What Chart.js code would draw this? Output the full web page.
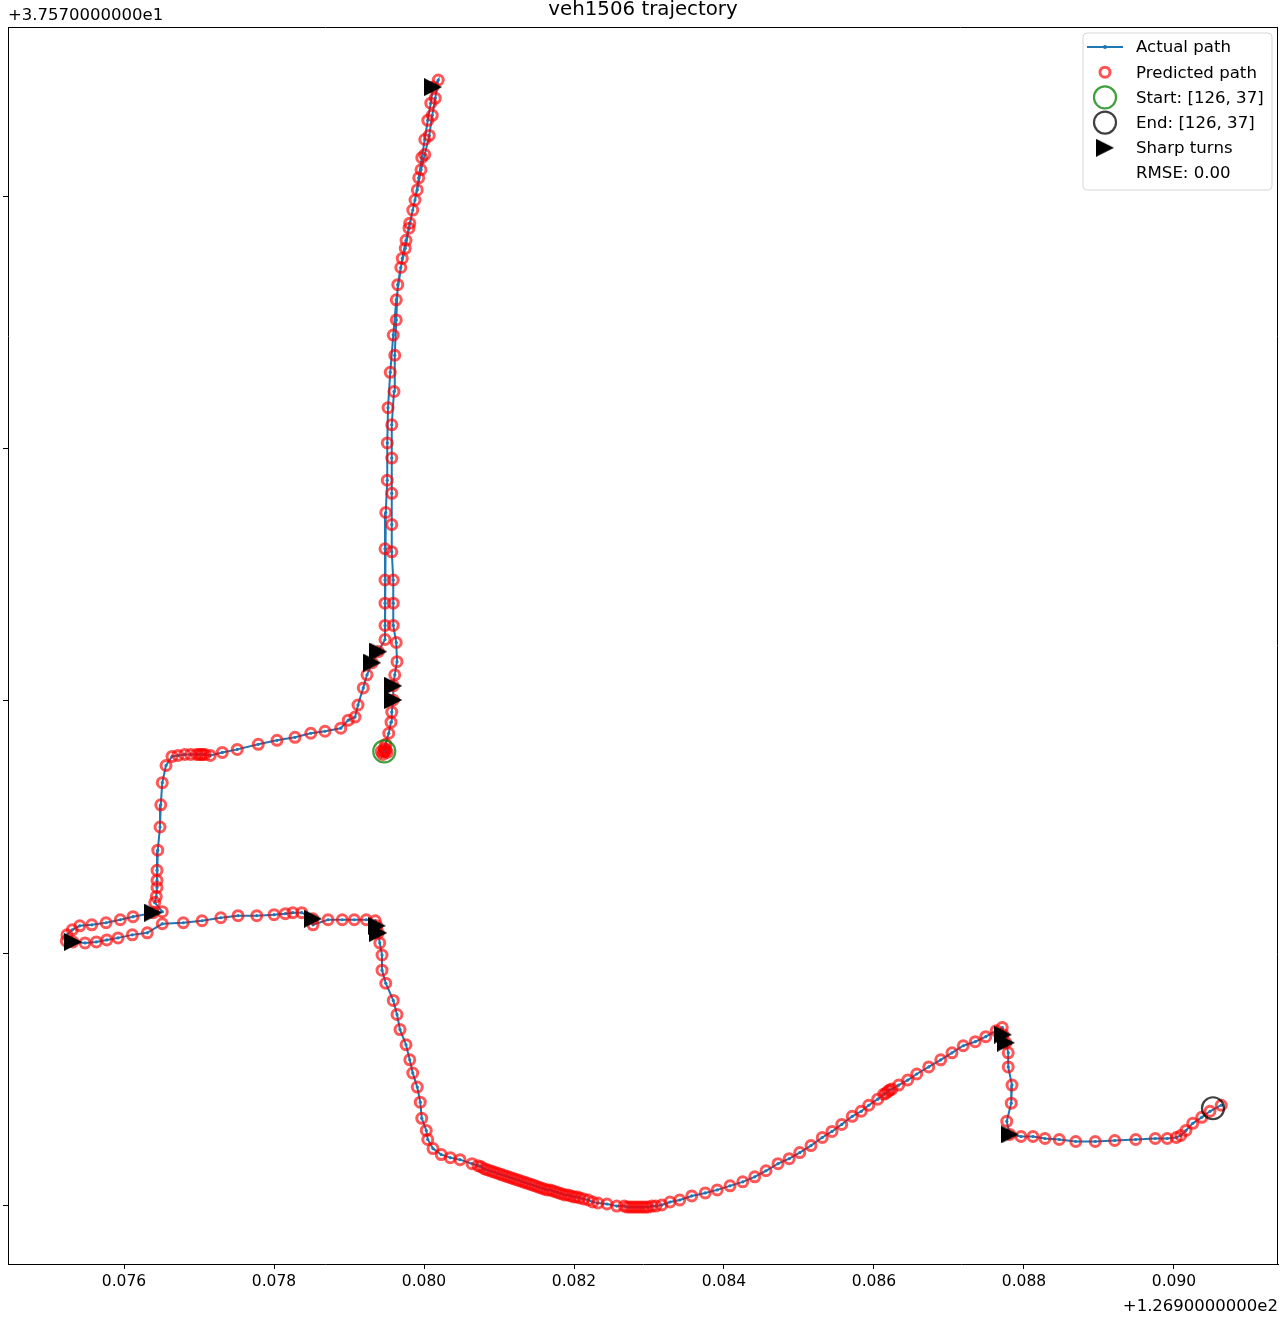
<!DOCTYPE html>
<html>
<head>
<meta charset="utf-8">
<title>veh1506 trajectory</title>
<script src="https://cdn.jsdelivr.net/npm/chart.js@4.4.1/dist/chart.umd.min.js"></script>
<style>
  html, body { margin: 0; padding: 0; background: #fff; }
  #wrap { width: 1281px; height: 1318px; }
</style>
</head>
<body>
<div id="wrap"><canvas id="traj" width="1281" height="1318"></canvas></div>
<script>
// lon offset from 126.9, lat offset from 37.57 (degrees)
var pathX = [
  // start cluster
  0.07947, 0.07943, 0.07951, 0.07947, 0.07945, 0.07949, 0.07948,
  // north leg, up
  0.07949, 0.07953, 0.07956, 0.07957, 0.07959, 0.07959, 0.07961, 0.07964, 0.07963, 0.07959,
  0.07959, 0.07959, 0.07957, 0.07957, 0.07957, 0.07957, 0.07957, 0.07960, 0.07961, 0.07963,
  0.07965, 0.07969, 0.07975, 0.07980, 0.07985, 0.07991, 0.07996, 0.08001, 0.08007, 0.08011,
  0.08015, 0.08019, 0.08012,
  // back down, then west step
  0.08009, 0.08005, 0.08001, 0.07997, 0.07993, 0.07988, 0.07981, 0.07976, 0.07971, 0.07963,
  0.07959, 0.07955, 0.07952, 0.07951, 0.07951, 0.07949, 0.07948, 0.07948, 0.07948, 0.07948,
  0.07948, 0.07939, 0.07931, 0.07924, 0.07919, 0.07912, 0.07908, 0.07899, 0.07889, 0.07868,
  0.07849, 0.07828, 0.07804, 0.07779, 0.07751, 0.07731, 0.07715,
  // west leg, loop, east, descent
  0.07708, 0.07705, 0.07703, 0.07700, 0.07697, 0.07689, 0.07681, 0.07672, 0.07664, 0.07656,
  0.07651, 0.07649, 0.07648, 0.07645, 0.07644, 0.07644, 0.07644, 0.07643, 0.07641, 0.07651,
  0.07639, 0.07612, 0.07595, 0.07576, 0.07557, 0.07541, 0.07531, 0.07524, 0.07523, 0.07532,
  0.07548, 0.07563, 0.07577, 0.07592, 0.07611, 0.07631, 0.07651, 0.07679, 0.07704, 0.07729,
  0.07752, 0.07777, 0.07800, 0.07815, 0.07825, 0.07837, 0.07852, 0.07852, 0.07872, 0.07891,
  0.07907, 0.07923, 0.07935, 0.07937, 0.07939, 0.07941, 0.07944, 0.07944, 0.07949, 0.07959,
  0.07964, 0.07968, 0.07976, 0.07981, 0.07985, 0.07991, 0.07995, 0.07997, 0.08003, 0.08005,
  0.08012, 0.08023, 0.08035, 0.08048, 0.08064,
  // slow stretch along the bottom
  0.08072, 0.08076, 0.08080, 0.08084, 0.08088, 0.08092, 0.08096, 0.08100, 0.08104, 0.08108,
  0.08112, 0.08116, 0.08120, 0.08124, 0.08128, 0.08132, 0.08136, 0.08140, 0.08144, 0.08148,
  0.08152, 0.08156, 0.08160, 0.08164, 0.08168, 0.08172, 0.08176, 0.08180, 0.08184, 0.08188,
  0.08192, 0.08196, 0.08200, 0.08204, 0.08208, 0.08213, 0.08219,
  0.08225, 0.08232, 0.08244, 0.08257,
  0.08267, 0.08271, 0.08275, 0.08279, 0.08283, 0.08287, 0.08291, 0.08295, 0.08299, 0.08304,
  0.08309,
  // climb north-east, drop, east to the end
  0.08317, 0.08328, 0.08341, 0.08357, 0.08375, 0.08391, 0.08408, 0.08425, 0.08441, 0.08456,
  0.08472, 0.08487, 0.08501, 0.08516, 0.08531, 0.08544, 0.08557, 0.08571, 0.08583, 0.08593,
  0.08605, 0.08613, 0.08616, 0.08619, 0.08621, 0.08624, 0.08633, 0.08645, 0.08657, 0.08673,
  0.08689, 0.08704, 0.08719, 0.08735, 0.08749, 0.08763, 0.08771, 0.08772, 0.08776, 0.08779,
  0.08779, 0.08784, 0.08783, 0.08777, 0.08781, 0.08796, 0.08812, 0.08828, 0.08847, 0.08869,
  0.08895, 0.08921, 0.08949, 0.08975, 0.08991, 0.09003, 0.09009, 0.09016, 0.09025, 0.09037,
  0.09048, 0.09063
];
var pathY = [
  0.00700, 0.00700, 0.00699, 0.00703, 0.00697, 0.00702, 0.00700,
  0.00707, 0.00718, 0.00729, 0.00739, 0.00751, 0.00765, 0.00776, 0.00789, 0.00808, 0.00825,
  0.00847, 0.00870, 0.00898, 0.00925, 0.00956, 0.00991, 0.01024, 0.01057, 0.01093, 0.01128,
  0.01163, 0.01180, 0.01199, 0.01219, 0.01237, 0.01257, 0.01277, 0.01292, 0.01311, 0.01331,
  0.01348, 0.01366, 0.01359,
  0.01343, 0.01326, 0.01307, 0.01289, 0.01269, 0.01247, 0.01224, 0.01207, 0.01189, 0.01148,
  0.01113, 0.01076, 0.01041, 0.01006, 0.00969, 0.00937, 0.00901, 0.00870, 0.00847, 0.00825,
  0.00811, 0.00799, 0.00788, 0.00776, 0.00763, 0.00746, 0.00734, 0.00731, 0.00723, 0.00720,
  0.00718, 0.00714, 0.00711, 0.00707, 0.00702, 0.00699, 0.00696,
  0.00697, 0.00697, 0.00697, 0.00697, 0.00697, 0.00697, 0.00697, 0.00696, 0.00695, 0.00686,
  0.00669, 0.00647, 0.00625, 0.00602, 0.00582, 0.00572, 0.00565, 0.00556, 0.00550, 0.00541,
  0.00540, 0.00536, 0.00533, 0.00530, 0.00528, 0.00527, 0.00523, 0.00518, 0.00512, 0.00511,
  0.00510, 0.00511, 0.00513, 0.00515, 0.00518, 0.00520, 0.00529, 0.00530, 0.00532, 0.00535,
  0.00537, 0.00537, 0.00538, 0.00539, 0.00540, 0.00540, 0.00534, 0.00528, 0.00533, 0.00533,
  0.00533, 0.00533, 0.00532, 0.00527, 0.00520, 0.00510, 0.00498, 0.00483, 0.00470, 0.00453,
  0.00439, 0.00424, 0.00409, 0.00394, 0.00381, 0.00367, 0.00352, 0.00336, 0.00324, 0.00315,
  0.00306, 0.00300, 0.00297, 0.00295, 0.00291,
  0.00289, 0.00288, 0.00286, 0.00285, 0.00284, 0.00283, 0.00282, 0.00281, 0.00280, 0.00279,
  0.00278, 0.00277, 0.00276, 0.00275, 0.00274, 0.00273, 0.00272, 0.00271, 0.00270, 0.00269,
  0.00268, 0.00267, 0.00266, 0.00265, 0.00265, 0.00264, 0.00263, 0.00262, 0.00261, 0.00260,
  0.00260, 0.00259, 0.00258, 0.00258, 0.00257, 0.00256, 0.00255,
  0.00253, 0.00252, 0.00251, 0.00249,
  0.00249, 0.00248, 0.00248, 0.00248, 0.00248, 0.00248, 0.00248, 0.00248, 0.00248, 0.00249,
  0.00249,
  0.00250, 0.00253, 0.00255, 0.00259, 0.00262, 0.00265, 0.00269, 0.00273, 0.00278, 0.00284,
  0.00291, 0.00296, 0.00302, 0.00309, 0.00317, 0.00323, 0.00330, 0.00338, 0.00343, 0.00349,
  0.00355, 0.00360, 0.00361, 0.00363, 0.00364, 0.00365, 0.00369, 0.00374, 0.00380, 0.00387,
  0.00394, 0.00401, 0.00408, 0.00412, 0.00417, 0.00423, 0.00426, 0.00419, 0.00411, 0.00401,
  0.00387, 0.00369, 0.00351, 0.00333, 0.00320, 0.00318, 0.00318, 0.00316, 0.00315, 0.00313,
  0.00313, 0.00314, 0.00315, 0.00316, 0.00316, 0.00317, 0.00319, 0.00324, 0.00331, 0.00337,
  0.00343, 0.00349
];
// points flagged as sharp turns
var turnX = [0.07959, 0.07959, 0.08012, 0.07939, 0.07931, 0.07639, 0.07532, 0.07852, 0.07937, 0.07939, 0.08772, 0.08776, 0.08781];
var turnY = [0.00751, 0.00765, 0.01359, 0.00799, 0.00788, 0.00540, 0.00511, 0.00534, 0.00527, 0.00520, 0.00419, 0.00411, 0.00320];
var startPt = [0.07947, 0.00700];
var endPt = [0.09052, 0.00346];

var xMin = 0.074453, xMax = 0.091387, xStep = 0.002;
var yMin = 0.001915, yMax = 0.014186, yStep = 0.0025;

var titleText = 'veh1506 trajectory';
var xOffsetText = '+1.2690000000e2';
var yOffsetText = '+3.7570000000e1';
var legendLabels = ['Actual path', 'Predicted path', 'Start: [126, 37]', 'End: [126, 37]', 'Sharp turns', 'RMSE: 0.00'];

var FONT = "'DejaVu Sans', 'Liberation Sans', sans-serif";
Chart.defaults.font.family = FONT;

function pts(xs, ys) {
  var out = [];
  for (var i = 0; i < xs.length; i++) out.push({x: xs[i], y: ys[i]});
  return out;
}

function makeTurnMarker(size) {
  var c = document.createElement('canvas');
  c.width = size; c.height = size;
  var g = c.getContext('2d');
  g.fillStyle = '#000';
  g.beginPath();
  g.moveTo(0, 0); g.lineTo(size, size / 2); g.lineTo(0, size);
  g.closePath(); g.fill();
  return c;
}
var turnMarker = makeTurnMarker(18);

var decor = {
  id: 'decor',
  afterDraw: function(chart) {
    var ctx = chart.ctx, a = chart.chartArea;
    ctx.save();
    // top and right spines
    ctx.strokeStyle = '#000'; ctx.lineWidth = 1;
    ctx.beginPath();
    ctx.moveTo(a.left, a.top + 0.5); ctx.lineTo(a.right, a.top + 0.5);
    ctx.moveTo(a.right - 0.5, a.top); ctx.lineTo(a.right - 0.5, a.bottom);
    ctx.stroke();

    ctx.fillStyle = '#000';
    ctx.textBaseline = 'alphabetic';
    ctx.font = '19.8px ' + FONT;
    ctx.textAlign = 'center';
    ctx.fillText(titleText, (a.left + a.right) / 2, 15);
    ctx.font = '16.5px ' + FONT;
    ctx.textAlign = 'left';
    ctx.fillText(yOffsetText, a.left, 20);
    ctx.textAlign = 'right';
    ctx.fillText(xOffsetText, a.right, 1311);

    // legend
    var bx = 1083, by = 33, bw = 189, bh = 157, r = 4;
    ctx.beginPath();
    ctx.moveTo(bx + r, by);
    ctx.arcTo(bx + bw, by, bx + bw, by + bh, r);
    ctx.arcTo(bx + bw, by + bh, bx, by + bh, r);
    ctx.arcTo(bx, by + bh, bx, by, r);
    ctx.arcTo(bx, by, bx + bw, by, r);
    ctx.closePath();
    ctx.fillStyle = 'rgba(255,255,255,0.8)';
    ctx.fill();
    ctx.strokeStyle = '#d6d6d6';
    ctx.lineWidth = 1;
    ctx.stroke();

    var hx = 1105, tx = 1136, y0 = 47, dy = 25.2;
    ctx.strokeStyle = '#1f77b4'; ctx.lineWidth = 2;
    ctx.beginPath(); ctx.moveTo(1087, y0); ctx.lineTo(1123, y0); ctx.stroke();
    ctx.fillStyle = '#1f77b4';
    ctx.beginPath(); ctx.arc(hx, y0, 2, 0, Math.PI * 2); ctx.fill();
    ctx.strokeStyle = 'rgba(255,0,0,0.68)'; ctx.lineWidth = 3;
    ctx.beginPath(); ctx.arc(hx, y0 + dy, 5, 0, Math.PI * 2); ctx.stroke();
    ctx.strokeStyle = 'rgba(0,128,0,0.75)'; ctx.lineWidth = 2.2;
    ctx.beginPath(); ctx.arc(hx, y0 + 2 * dy, 11, 0, Math.PI * 2); ctx.stroke();
    ctx.strokeStyle = 'rgba(0,0,0,0.75)';
    ctx.beginPath(); ctx.arc(hx, y0 + 3 * dy, 11, 0, Math.PI * 2); ctx.stroke();
    ctx.drawImage(turnMarker, hx - 9, y0 + 4 * dy - 9);

    ctx.fillStyle = '#000';
    ctx.font = '16.6px ' + FONT;
    ctx.textAlign = 'left';
    ctx.textBaseline = 'middle';
    legendLabels.forEach(function(t, i) {
      ctx.fillText(t, tx, y0 + i * dy + 1);
    });
    ctx.restore();
  }
};

var axisCommon = {
  type: 'linear',
  grid: { display: true, drawOnChartArea: false, drawTicks: true, tickLength: 5, color: '#000', lineWidth: 1 },
  border: { display: true, color: '#000', width: 1 }
};

new Chart(document.getElementById('traj'), {
  type: 'scatter',
  data: {
    datasets: [
      {
        label: 'Actual path',
        data: pts(pathX, pathY),
        showLine: true,
        borderColor: '#1f77b4',
        borderWidth: 2,
        pointRadius: 1.6,
        pointBorderWidth: 0,
        pointBackgroundColor: '#1f77b4',
        order: 4
      },
      {
        label: 'Predicted path',
        data: pts(pathX, pathY),
        pointRadius: 5,
        pointBorderWidth: 3,
        pointBorderColor: 'rgba(255,0,0,0.66)',
        pointBackgroundColor: 'rgba(0,0,0,0)',
        order: 3
      },
      {
        label: 'Start',
        data: [{x: startPt[0], y: startPt[1]}],
        pointRadius: 11,
        pointBorderWidth: 2.2,
        pointBorderColor: 'rgba(0,128,0,0.75)',
        pointBackgroundColor: 'rgba(0,0,0,0)',
        order: 2
      },
      {
        label: 'End',
        data: [{x: endPt[0], y: endPt[1]}],
        pointRadius: 11,
        pointBorderWidth: 2.2,
        pointBorderColor: 'rgba(0,0,0,0.75)',
        pointBackgroundColor: 'rgba(0,0,0,0)',
        order: 1
      },
      {
        label: 'Sharp turns',
        data: pts(turnX, turnY),
        pointStyle: turnMarker,
        pointRadius: 9,
        order: 0
      }
    ]
  },
  options: {
    responsive: false,
    animation: false,
    devicePixelRatio: 1,
    layout: { autoPadding: false, padding: { top: 27, right: 3, left: 0, bottom: 0 } },
    plugins: { legend: { display: false }, tooltip: { enabled: false }, title: { display: false } },
    scales: {
      x: Object.assign({}, axisCommon, {
        position: 'bottom',
        min: xMin, max: xMax,
        ticks: {
          stepSize: xStep, includeBounds: false, autoSkip: false, maxRotation: 0,
          padding: 4, color: '#000', font: { size: 15.5 },
          callback: function(v) { return v.toFixed(3); }
        },
        afterFit: function(s) { s.height = 54; }
      }),
      y: Object.assign({}, axisCommon, {
        position: 'left',
        min: yMin, max: yMax,
        ticks: {
          stepSize: yStep, includeBounds: false, autoSkip: false,
          padding: 0, font: { size: 15.5 },
          callback: function() { return ''; }
        },
        afterFit: function(s) { s.width = 8; }
      })
    }
  },
  plugins: [decor]
});
</script>
</body>
</html>
